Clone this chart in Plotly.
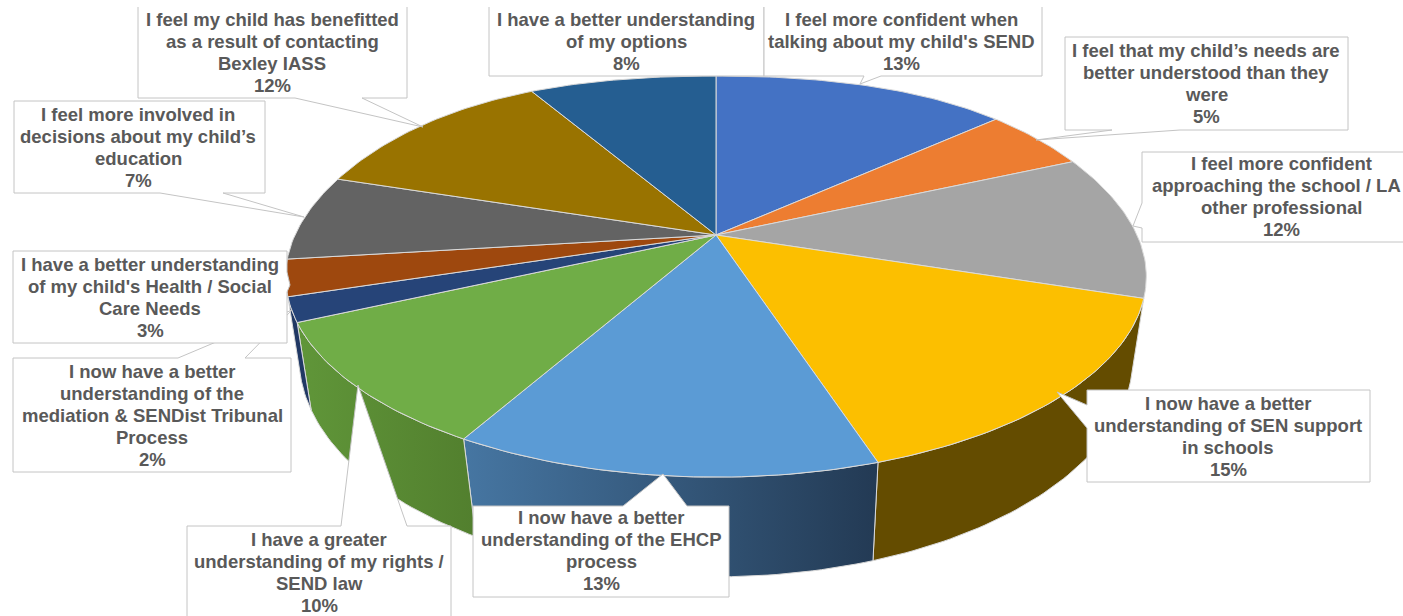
import math
import plotly.graph_objects as go

# ---- data ----
categories = [
    ["I feel more confident when", "talking about my child's SEND"],
    ["I feel that my child’s needs are", "better understood than they", "were"],
    ["I feel more confident", "approaching the school / LA", "other professional"],
    ["I now have a better", "understanding of SEN support", "in schools"],
    ["I now have a better", "understanding of the EHCP", "process"],
    ["I have a greater", "understanding of my rights /", "SEND law"],
    ["I now have a better", "understanding of the", "mediation & SENDist Tribunal", "Process"],
    ["I have a better understanding", "of my child's Health / Social", "Care Needs"],
    ["I feel more involved in", "decisions about my child’s", "education"],
    ["I feel my child has benefitted", "as a result of contacting", "Bexley IASS"],
    ["I have a better understanding", "of my options"],
]
values = [13, 5, 12, 15, 13, 10, 2, 3, 7, 12, 8]

# ---- styles ----
colors = ["#4472C4", "#ED7D31", "#A5A5A5", "#FCBF00", "#5B9BD5", "#70AD47",
          "#264478", "#9E480E", "#636363", "#997300", "#255E91"]
wall_styles = {
    3: ("#644C00", "#644C00"),
    4: ("#4676A2", "#233A54"),
    5: ("#609639", "#527F2E"),
    6: ("#203864", "#203864"),
}
TEXT = "#595959"
BORDER = "#C4C4C4"
RIM = "#DADADA"

# projection of the tilted disc to the page
K = 0.207
TOP = dict(cx=716, cy=235, a=421, b=192)
BOT = dict(cx=716, cy=312, a=408, b=210)


def warp(deg):
    # small angular correction of the source chart's 3D renderer
    t = math.radians(deg)
    u, v = math.sin(t), math.cos(t)
    if v > 0 and u > 0:
        return deg + 4.5 * u * v
    if v > 0:
        return deg + 6 * u * v * v
    if u < 0:
        return deg + 1.5 * u * v
    return deg


def project(deg, p, warped=False):
    t = math.radians(warp(deg) if warped else deg)
    u, v = math.sin(t), math.cos(t)
    d = 1 + K * v
    x, y = p["cx"] + p["a"] * u / d, p["cy"] - p["b"] * v / d
    if warped and v > 0:
        y -= 5 * (2 * u * v) ** 2  # the far rim is slightly fuller than an ellipse
    return x, y


def arc(d0, d1, p, warped=False):
    n = max(2, int(abs(d1 - d0)) + 1)
    pts = [project(d0 + (d1 - d0) * i / (n - 1), p, warped) for i in range(n)]
    return [q[0] for q in pts], [q[1] for q in pts]


# cumulative angles from the values
total = sum(values)
edges = [0.0]
for val in values:
    edges.append(edges[-1] + val / total * 360.0)

fig = go.Figure()

# side walls
for i, (c0, c1) in wall_styles.items():
    tx, ty = arc(edges[i], edges[i + 1], TOP, True)
    bx, by = arc(edges[i + 1], edges[i], BOT)
    x = tx + bx + [tx[0]]
    y = ty + by + [ty[0]]
    kw = dict(fillcolor=c0)
    if c0 != c1:
        kw["fillgradient"] = dict(type="horizontal", colorscale=[[0, c0], [1, c1]])
    fig.add_trace(go.Scatter(x=x, y=y, mode="lines", fill="toself",
                             line=dict(color=RIM, width=1), hoverinfo="skip",
                             showlegend=False, **kw))

# top faces
for i, name in enumerate(categories):
    ax, ay = arc(edges[i], edges[i + 1], TOP, True)
    x = [TOP["cx"]] + ax + [TOP["cx"]]
    y = [TOP["cy"]] + ay + [TOP["cy"]]
    fig.add_trace(go.Scatter(x=x, y=y, mode="lines", fill="toself", fillcolor=colors[i],
                             line=dict(color=RIM, width=1), name=" ".join(name),
                             text=f"{values[i]}%", hoverinfo="name+text", showlegend=False))

# callout outlines (page pixels): box, then leader tip
callouts = [
    (6, [(489, 0), (764, 0), (764, 76), (489, 76)]),
    (0, [(764, 0), (1042, 0), (1042, 76), (881, 76), (860, 84), (864, 76), (764, 76)]),
    (1, [(1065, 37), (1348, 37), (1348, 130), (1180, 130), (1036, 140), (1112, 130), (1065, 130)]),
    (2, [(1142, 152), (1412, 152), (1412, 242), (1142, 242), (1142, 228), (1133, 226), (1142, 203)]),
    (3, [(1087, 390), (1370, 390), (1370, 482), (1087, 482), (1087, 428), (1057, 392), (1087, 405)]),
    (4, [(473, 506), (623, 506), (663, 474), (687, 506), (729, 506), (729, 597), (473, 597)]),
    (5, [(187, 526), (341, 526), (358, 385), (407, 526), (451, 526), (451, 622), (187, 622)]),
    (6, [(13, 358), (178, 358), (292, 310), (245, 358), (291, 358), (291, 472), (13, 472)]),
    (7, [(13, 251), (287, 251), (287, 272), (290, 285), (287, 292), (287, 343), (13, 343)]),
    (8, [(14, 101), (265, 101), (265, 193), (223, 193), (304, 217), (160, 193), (14, 193)]),
    (9, [(138, 0), (407, 0), (407, 98), (362, 98), (423, 127), (295, 98), (138, 98)]),
]
shapes = []
for _, poly in callouts:
    path = "M " + " L ".join(f"{px},{py}" for px, py in poly) + " Z"
    shapes.append(dict(type="path", path=path, xref="x", yref="y", layer="above",
                       fillcolor="white", line=dict(color=BORDER, width=1)))
shapes.append(dict(type="rect", x0=-5, x1=1410, y0=-5, y1=7, xref="x", yref="y",
                   layer="above", fillcolor="white", line=dict(width=0)))

# label placement: centre x, first line centre y, per category
label_pos = [(901, 19), (1206, 50), (1281, 163), (1228, 403), (601, 517), (319, 539),
             (152, 371), (150, 264), (138, 114), (272, 19), (626, 19)]
LINE = 22
annotations = []
for i, name in enumerate(categories):
    cx, y0 = label_pos[i]
    for j, line in enumerate(name + [f"{values[i]}%"]):
        xc = 1276 if line.startswith("approaching") else cx
        annotations.append(dict(x=xc, y=y0 + LINE * j, xref="x", yref="y", text=line,
                                showarrow=False, xanchor="center", yanchor="middle",
                                font=dict(family="Liberation Sans", size=18.5, color=TEXT, weight="bold")))

fig.update_layout(
    width=1403, height=616, margin=dict(l=0, r=0, t=0, b=0),
    paper_bgcolor="white", plot_bgcolor="white", showlegend=False,
    xaxis=dict(range=[0, 1403], visible=False, fixedrange=True),
    yaxis=dict(range=[616, 0], visible=False, fixedrange=True),
    shapes=shapes, annotations=annotations,
)
fig.write_html("out.html", config=dict(displayModeBar=False),
               post_script="document.body.style.margin='0';document.body.style.overflow='hidden';")
